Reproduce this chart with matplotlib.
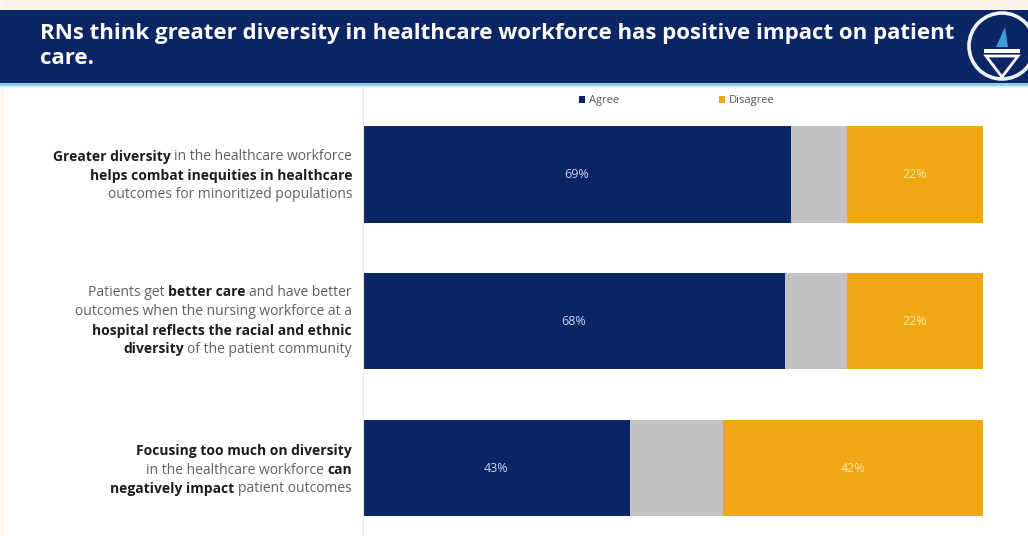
import numpy as np
import matplotlib.pyplot as plt
from matplotlib.patches import Rectangle, Circle, Polygon
from matplotlib.offsetbox import TextArea, HPacker, AnnotationBbox

plt.rcParams['font.family'] = ['Open Sans', 'DejaVu Sans']

W, H = 1028, 536

title_lines = ['RNs think greater diversity in healthcare workforce has positive impact on patient',
               'care.']

# each statement: lines made of (text, bold) pieces
statements = [
    [[('Greater diversity', True), ('in the healthcare workforce', False)],
     [('helps combat inequities in healthcare', True)],
     [('outcomes for minoritized populations', False)]],
    [[('Patients get', False), ('better care', True), ('and have better', False)],
     [('outcomes when the nursing workforce at a', False)],
     [('hospital reflects the racial and ethnic', True)],
     [('diversity', True), ('of the patient community', False)]],
    [[('Focusing too much on diversity', True)],
     [('in the healthcare workforce', False), ('can', True)],
     [('negatively impact', True), ('patient outcomes', False)]],
]

agree = [69, 68, 43]
neutral = [9, 10, 15]
disagree = [22, 22, 42]
legend_labels = ['Agree', 'Disagree']

navy = '#0b2463'
grey = '#c2c2c2'
orange = '#efa714'

fig = plt.figure(figsize=(W / 100, H / 100), dpi=100)
fig.patch.set_facecolor('white')

# background layer in pixel units: header band, accent line, logo
bg = fig.add_axes([0, 0, 1, 1], zorder=0)
bg.set_xlim(0, W)
bg.set_ylim(H, 0)
bg.axis('off')
bg.add_patch(Rectangle((0, 0), W, 10, color='#fbf2ea', lw=0))
bg.add_patch(Rectangle((0, 0), 4, H, color='#fcf6ee', lw=0))
bg.add_patch(Rectangle((0, 10), W, 73, color='#0c2565', lw=0))
bg.add_patch(Rectangle((0, 83), W, 3, color='#8fcdec', lw=0))
bg.add_patch(Rectangle((0, 86), W, 2, color='#e3f3fb', lw=0))

bg.text(40, 34, title_lines[0], color='white', fontsize=16, fontweight='bold', va='center')
bg.text(40, 58, title_lines[1], color='white', fontsize=16, fontweight='bold', va='center')

# logo
bg.add_patch(Circle((1002, 46), 33, facecolor='#0c2565', edgecolor='#eef4fa', lw=2.6))
bg.add_patch(Polygon([(986, 56), (1018, 56), (1002, 77)], closed=True,
                     facecolor='none', edgecolor='white', lw=2))
bg.add_patch(Rectangle((984, 49), 36, 3.5, color='white', lw=0))
bg.add_patch(Polygon([(996, 47), (1008, 47), (1005, 27), (1001, 36)], closed=True,
                     facecolor='#3a9ee0', edgecolor='none'))

# stacked bars
ax = fig.add_axes([363 / W, 0, 620 / W, (H - 88) / H], zorder=1)
ax.patch.set_alpha(0)
y = np.arange(len(agree))
agree_a = np.array(agree)
neutral_a = np.array(neutral)
disagree_a = np.array(disagree)
h_agree = ax.barh(y, agree_a, height=0.655, color=navy)
ax.barh(y, neutral_a, left=agree_a, height=0.655, color=grey)
h_dis = ax.barh(y, disagree_a, left=agree_a + neutral_a, height=0.655, color=orange)
ax.set_xlim(0, 100)
ax.set_ylim(2.463, -0.589)
for s in ['top', 'right', 'bottom']:
    ax.spines[s].set_visible(False)
ax.spines['left'].set_color('#e4e4e4')
ax.set_xticks([])
ax.set_yticks([])

for i in range(len(agree)):
    ax.text(agree[i] / 2, i, f'{agree[i]}%', ha='center', va='center',
            color='#c9d5f0', fontsize=9)
    ax.text(agree[i] + neutral[i] + disagree[i] / 2, i, f'{disagree[i]}%',
            ha='center', va='center', color='#fbe6a2', fontsize=9)

fig.legend([h_agree, h_dis], legend_labels, loc='center',
           bbox_to_anchor=(677 / W, 1 - 101 / H), ncol=2, frameon=False,
           fontsize=8, handlelength=0.55, handleheight=0.55, handletextpad=0.35,
           columnspacing=9.0, labelcolor='#555555')

# statement labels, right-aligned against the bars
centers = [176, 321, 470]
line_gap = 19
for stmt, cy in zip(statements, centers):
    n = len(stmt)
    for k, line in enumerate(stmt):
        ly = cy + (k - (n - 1) / 2) * line_gap
        parts = [TextArea(txt, textprops=dict(fontsize=10,
                                              fontweight='bold' if b else 'normal',
                                              color='#1c1c1c' if b else '#606060'))
                 for txt, b in line]
        box = HPacker(children=parts, align='baseline', pad=0, sep=2.6)
        ab = AnnotationBbox(box, (352, H - ly), xycoords='figure pixels',
                            box_alignment=(1, 0.5), frameon=False, pad=0)
        fig.add_artist(ab)

fig.savefig('out.png', dpi=100)
